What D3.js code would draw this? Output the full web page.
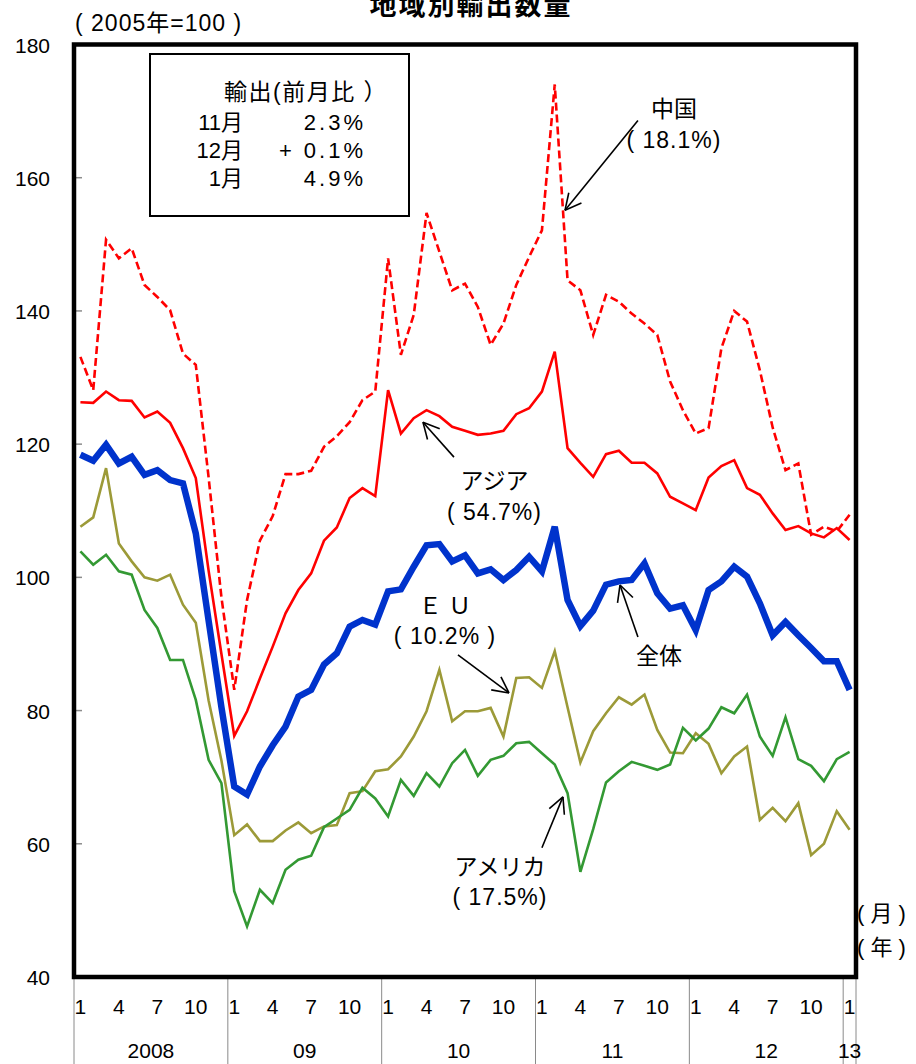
<!DOCTYPE html>
<html>
<head>
<meta charset="utf-8">
<script src="https://cdn.jsdelivr.net/npm/d3@7"></script>
<style>
  body { margin: 0; background: #fff; }
  svg text { font-family: "Liberation Sans", "Noto Sans CJK JP", sans-serif; fill: #000; }
</style>
</head>
<body>
<svg id="chart" width="916" height="1064"></svg>
<script>
// Year labels along the category axis (Jan 2008 – Jan 2013, monthly)
const yearLabels = ["2008", "09", "10", "11", "12", "13"];
const monthTicks = [1, 4, 7, 10];
const yTicks = [40, 60, 80, 100, 120, 140, 160, 180];

// Export volume index by region (2005 = 100)
const total = [118.4, 117.5, 119.9, 117.1, 118.1, 115.4, 116.1, 114.6, 114.1, 106.6, 93.5, 80.5,
  68.6, 67.4, 71.6, 74.8, 77.6, 82.1, 83.1, 86.9, 88.6, 92.6, 93.6, 92.9,
  97.9, 98.2, 101.6, 104.8, 105.0, 102.4, 103.3, 100.6, 101.2, 99.6, 101.1, 103.1,
  100.9, 107.6, 96.6, 92.7, 95.0, 98.9, 99.4, 99.6, 102.1, 97.6, 95.3, 95.8,
  92.1, 98.1, 99.4, 101.6, 100.1, 96.1, 91.3, 93.3, 91.3, 89.4, 87.4, 87.4,
  83.1];
const asia = [126.3, 126.2, 127.9, 126.6, 126.5, 124.0, 124.9, 123.2, 119.4, 114.9, 101.0, 88.5,
  76.2, 79.9, 84.8, 89.6, 94.6, 98.1, 100.6, 105.5, 107.5, 111.9, 113.4, 112.2,
  128.1, 121.6, 123.9, 125.1, 124.2, 122.6, 122.0, 121.4, 121.6, 122.0, 124.5, 125.4,
  127.9, 133.9, 119.4, 117.2, 115.1, 118.5, 119.0, 117.2, 117.2, 115.6, 112.1, 111.1,
  110.1, 115.0, 116.7, 117.6, 113.4, 112.4, 109.6, 107.1, 107.7, 106.6, 106.0, 107.4,
  105.6];
const china = [133.1, 128.1, 150.7, 147.9, 149.4, 143.9, 142.1, 140.1, 133.6, 131.9, 115.0, 97.0,
  83.1, 96.6, 105.5, 109.2, 115.5, 115.5, 116.0, 119.6, 121.2, 123.3, 126.6, 127.9,
  147.9, 133.4, 139.4, 154.7, 148.9, 143.1, 144.1, 140.6, 134.9, 138.1, 143.9, 148.1,
  152.1, 174.0, 144.6, 143.1, 136.4, 142.4, 141.4, 139.6, 138.1, 136.4, 129.4, 125.1,
  121.6, 122.4, 134.4, 140.0, 138.4, 131.1, 122.5, 116.1, 117.1, 106.4, 107.6, 106.9,
  109.4];
const eu = [107.6, 109.0, 116.4, 105.1, 102.4, 100.0, 99.5, 100.4, 95.9, 93.2, 81.5, 72.5,
  61.3, 62.9, 60.4, 60.4, 62.0, 63.2, 61.6, 62.6, 62.8, 67.6, 67.9, 70.9,
  71.2, 73.1, 76.1, 79.9, 86.1, 78.4, 79.9, 79.9, 80.4, 76.1, 84.9, 85.0,
  83.4, 88.9, 80.5, 72.2, 76.9, 79.6, 82.0, 80.9, 82.4, 77.1, 73.7, 73.6,
  76.6, 75.0, 70.6, 73.1, 74.6, 63.6, 65.4, 63.4, 66.1, 58.3, 60.0, 64.9,
  62.1];
const usa = [103.9, 101.9, 103.4, 100.9, 100.4, 95.1, 92.4, 87.6, 87.6, 81.6, 72.6, 69.1,
  52.9, 47.6, 53.1, 51.1, 56.1, 57.6, 58.2, 62.5, 63.8, 65.1, 68.4, 66.8,
  64.1, 69.6, 67.2, 70.6, 68.6, 72.1, 74.1, 70.2, 72.6, 73.2, 75.1, 75.3,
  73.6, 71.9, 67.6, 55.8, 62.2, 69.2, 70.9, 72.3, 71.7, 71.1, 71.9, 77.4,
  75.5, 77.3, 80.5, 79.6, 82.4, 76.1, 73.2, 79.0, 72.7, 71.7, 69.4, 72.7,
  73.8];

// Monthly categories built from the year labels
const periods = [];
yearLabels.forEach((yl, yi) => {
  const n = yi === yearLabels.length - 1 ? 1 : 12;
  for (let m = 1; m <= n; m++) periods.push({ year: yl, month: m, yi });
});

const svg = d3.select("#chart");
const frame = { left: 74, right: 856, top: 44.5, bottom: 977 };

const x = d3.scaleBand().domain(d3.range(periods.length))
  .range([frame.left, frame.right]).paddingInner(0).paddingOuter(0);
const bw = x.bandwidth();
const cx = i => x(i) + bw / 2;
const ax = t => x(0) + bw * (t + 0.5);   // fractional month position
const y = d3.scaleLinear().domain([40, 180]).range([frame.bottom, frame.top]);

// Title (sits partly above the top edge of the page)
svg.append("text").attr("x", 471).attr("y", 15)
  .attr("text-anchor", "middle").attr("font-size", 27).attr("font-weight", "bold")
  .attr("letter-spacing", 2).text("地域別輸出数量");

svg.append("text").attr("x", 75).attr("y", 31)
  .attr("font-size", 23).attr("letter-spacing", 1).text("( 2005年=100 )");

// Y axis labels
const yAxis = d3.axisLeft(y).tickValues(yTicks).tickSize(0).tickPadding(24);
const yg = svg.append("g").attr("transform", `translate(${frame.left},0)`).call(yAxis);
yg.select(".domain").remove();
yg.selectAll("text").attr("font-size", 21).attr("font-family", null).attr("dy", "0.36em");

// Small grey ticks inside the frame
svg.append("g").selectAll("line").data(yTicks).join("line")
  .attr("x1", frame.left).attr("x2", frame.left + 8)
  .attr("y1", d => y(d)).attr("y2", d => y(d))
  .attr("stroke", "#8c8c8c").attr("stroke-width", 1.5);

// Category axis: year separators, month labels, year labels
const sepIdx = periods.map((p, i) => i).filter(i => periods[i].month === 1);
const sepX = sepIdx.map(i => x(i)).concat([frame.right]);
svg.append("g").selectAll("line").data(sepX).join("line")
  .attr("x1", d => d).attr("x2", d => d)
  .attr("y1", frame.bottom).attr("y2", 1064)
  .attr("stroke", "#8a8a8a").attr("stroke-width", 1);

svg.append("g").selectAll("text")
  .data(periods.map((p, i) => ({ p, i })).filter(d => monthTicks.includes(d.p.month)))
  .join("text")
  .attr("x", d => cx(d.i)).attr("y", 1014)
  .attr("text-anchor", "middle").attr("font-size", 21)
  .text(d => d.p.month);

svg.append("g").selectAll("text").data(yearLabels).join("text")
  .attr("x", (d, yi) => {
    const idx = periods.map((p, i) => i).filter(i => periods[i].yi === yi);
    return (x(idx[0]) + x(idx[idx.length - 1]) + bw) / 2;
  })
  .attr("y", 1058).attr("text-anchor", "middle").attr("font-size", 21)
  .text(d => d);

svg.append("text").attr("x", 857).attr("y", 921).attr("font-size", 22).text("( 月 )");
svg.append("text").attr("x", 857).attr("y", 955).attr("font-size", 22).text("( 年 )");

// Series lines
const line = d3.line().x((d, i) => cx(i)).y(d => y(d));
const series = [
  { data: china, color: "#ff0000", width: 2.6, dash: "8,4" },
  { data: asia, color: "#ff0000", width: 2.6, dash: null },
  { data: eu, color: "#9c9a38", width: 2.6, dash: null },
  { data: usa, color: "#339933", width: 2.6, dash: null },
  { data: total, color: "#0033cc", width: 6.5, dash: null }
];
svg.append("g").selectAll("path").data(series).join("path")
  .attr("d", d => line(d.data))
  .attr("fill", "none")
  .attr("stroke", d => d.color)
  .attr("stroke-width", d => d.width)
  .attr("stroke-dasharray", d => d.dash)
  .attr("stroke-linejoin", "miter");

// Plot frame
svg.append("rect")
  .attr("x", frame.left).attr("y", frame.top)
  .attr("width", frame.right - frame.left).attr("height", frame.bottom - frame.top)
  .attr("fill", "none").attr("stroke", "#000").attr("stroke-width", 4.5);

// Month-on-month box
const box = svg.append("g");
box.append("rect").attr("x", 150).attr("y", 54).attr("width", 259).attr("height", 162)
  .attr("fill", "#fff").attr("stroke", "#000").attr("stroke-width", 2);
box.append("text").attr("x", 306).attr("y", 100).attr("text-anchor", "middle")
  .attr("font-size", 23).attr("letter-spacing", 1.5).text("輸出(前月比 ）");
const boxRows = [["11月", "2.3%"], ["12月", "+ 0.1%"], ["1月", "4.9%"]];
boxRows.forEach((r, k) => {
  const by = 129.7 + k * 28.2;
  box.append("text").attr("x", 243).attr("y", by).attr("text-anchor", "end")
    .attr("font-size", 22).text(r[0]);
  box.append("text").attr("x", 366).attr("y", by).attr("text-anchor", "end")
    .attr("font-size", 22).attr("letter-spacing", 3).text(r[1]);
});

// Callouts: label lines, arrow tail and tip in (month index, value)
const callouts = [
  { lines: ["中国", "( 18.1%)"], at: [46.3, 170.4], gap: 4.65, tail: [43.49, 168.6], tip: [37.8, 155.1] },
  { lines: ["アジア", "( 54.7%)"], at: [32.3, 114.45], gap: 4.65, tail: [29.14, 118.05], tip: [26.72, 123.3] },
  { lines: ["Ｅ Ｕ", "( 10.2% )"], at: [28.44, 95.7], gap: 4.5, tail: [29.45, 88.35], tip: [33.43, 82.65] },
  { lines: ["全体"], at: [45.13, 88.2], gap: 0, tail: [43.49, 91.05], tip: [42.09, 98.85] },
  { lines: ["アメリカ", "( 17.5%)"], at: [32.73, 56.55], gap: 4.5, tail: [36.0, 59.4], tip: [37.64, 67.05] }
];
const cg = svg.append("g");
callouts.forEach(c => {
  c.lines.forEach((t, k) => {
    cg.append("text").attr("x", ax(c.at[0])).attr("y", y(c.at[1] - k * c.gap))
      .attr("dy", "0.36em").attr("text-anchor", "middle").attr("font-size", 23)
      .attr("letter-spacing", k === 0 ? 0 : 1).text(t);
  });
  const x1 = ax(c.tail[0]), y1 = y(c.tail[1]), x2 = ax(c.tip[0]), y2 = y(c.tip[1]);
  cg.append("line").attr("x1", x1).attr("y1", y1).attr("x2", x2).attr("y2", y2)
    .attr("stroke", "#000").attr("stroke-width", 1.6);
  const ang = Math.atan2(y1 - y2, x1 - x2), len = 18, spread = 0.47;
  [ang - spread, ang + spread].forEach(a => {
    cg.append("line").attr("x1", x2).attr("y1", y2)
      .attr("x2", x2 + len * Math.cos(a)).attr("y2", y2 + len * Math.sin(a))
      .attr("stroke", "#000").attr("stroke-width", 1.6);
  });
});
</script>
</body>
</html>
